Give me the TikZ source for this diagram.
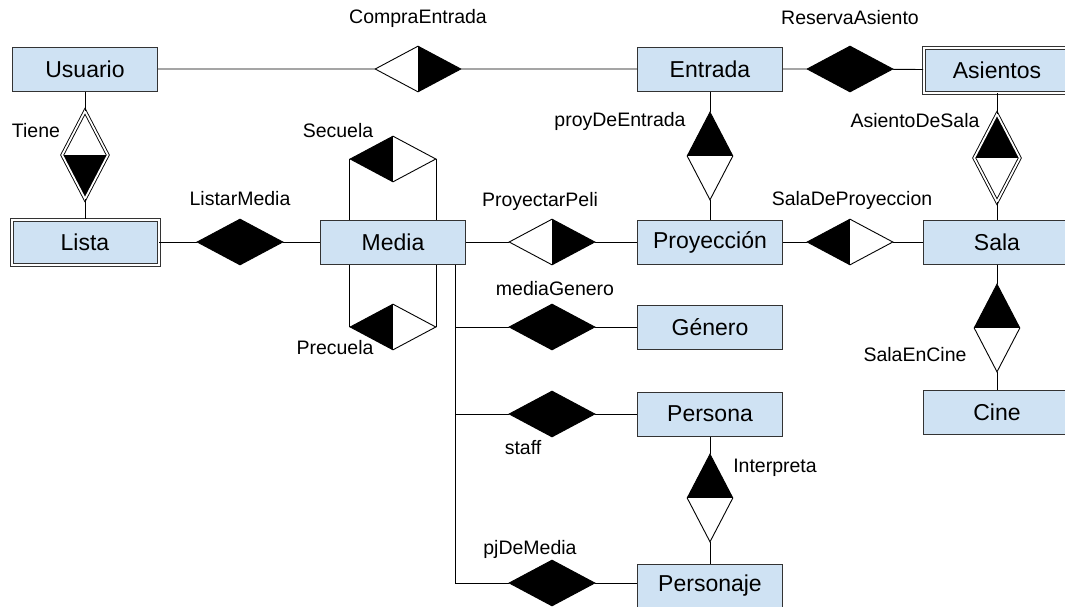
\documentclass[tikz,border=0pt]{standalone}
\usepackage{fontspec}
\setmainfont{Liberation Sans}
\usetikzlibrary{shapes.geometric}
\definecolor{entfill}{HTML}{CFE2F3}
\definecolor{edgec}{HTML}{333333}
\begin{document}
\begin{tikzpicture}[x=1pt,y=-1pt,
  ent/.style={draw=edgec, line width=1pt, fill=entfill, minimum width=145pt, minimum height=44pt, inner sep=0pt, font=\fontsize{23}{27}\selectfont},
  went/.style={ent, minimum width=148pt},
  dent/.style={ent, double=white, double distance=2pt, minimum width=147pt, minimum height=45pt},
  rel/.style={diamond, draw=black, line width=0.9pt, minimum width=86pt, minimum height=46pt, inner sep=0pt, fill=white},
  vrel/.style={rel, minimum width=46pt, minimum height=88pt},
  drel/.style={vrel, double=white, double distance=1.8pt, minimum width=46pt, minimum height=88pt},
  lb/.style={path picture={\fill[black] (path picture bounding box.north west) rectangle (path picture bounding box.south);}},
  rb/.style={path picture={\fill[black] (path picture bounding box.north east) rectangle (path picture bounding box.south);}},
  tb/.style={path picture={\fill[black] (path picture bounding box.north west) rectangle (path picture bounding box.east);}},
  bb/.style={path picture={\fill[black] (path picture bounding box.south west) rectangle (path picture bounding box.east);}},
  full/.style={fill=black},
  lbl/.style={font=\fontsize{19.5}{23}\selectfont, inner sep=0pt},
  conn/.style={draw=black, line width=0.9pt}
]
\useasboundingbox (0,0) rectangle (1065,606);
\clip (0,0) rectangle (1065,606);
\fill[white] (0,0) rectangle (1065,606);

% entities
\node[ent] (usuario) at (85,69) {Usuario};
\node[ent] (entrada) at (710,69) {Entrada};
\node[dent] (asientos) at (997,70) {Asientos};
\node[dent] (lista) at (85,242) {Lista};
\node[ent] (media) at (393,242) {Media};
\node[ent] (proy) at (710,242) {Proyección};
\node[went] (sala) at (997,242) {Sala};
\node[ent] (genero) at (710,327) {Género};
\node[ent] (persona) at (710,414) {Persona};
\node[went] (cine) at (997,412) {Cine};
\node[ent] (personaje) at (710,586) {Personaje};

% relationships
\node[rel,rb] (compra) at (418,69) {};
\node[rel,full] (reserva) at (850,69) {};
\node[drel,bb] (tiene) at (85,155) {};
\node[rel,full] (listar) at (240,242) {};
\node[rel,lb] (secuela) at (393,159) {};
\node[rel,lb] (precuela) at (393,327) {};
\node[rel,rb] (proyectar) at (552,242) {};
\node[vrel,tb] (proyde) at (710,156) {};
\node[rel,lb] (salade) at (850,242) {};
\node[drel,tb] (asde) at (997,158) {};
\node[vrel,tb] (salaen) at (997,328) {};
\node[rel,full] (mgen) at (552,327) {};
\node[rel,full] (staffd) at (552,414) {};
\node[vrel,tb] (interp) at (710,498) {};
\node[rel,full] (pj) at (552,583) {};
\coordinate (trunk) at (455,583);

% connectors
\draw[conn] (usuario) -- (compra) -- (entrada) -- (reserva) -- (asientos);
\draw[conn] (usuario) -- (tiene) -- (lista);
\draw[conn] (lista) -- (listar) -- (media) -- (proyectar) -- (proy) -- (salade) -- (sala);
\draw[conn] (entrada) -- (proyde) -- (proy);
\draw[conn] (asientos) -- (asde) -- (sala);
\draw[conn] (sala) -- (salaen) -- (cine);
\draw[conn] (persona) -- (interp) -- (personaje);
\draw[conn] (media.north -| secuela.west) -- (secuela.west);
\draw[conn] (media.north -| secuela.east) -- (secuela.east);
\draw[conn] (media.south -| precuela.west) -- (precuela.west);
\draw[conn] (media.south -| precuela.east) -- (precuela.east);
\draw[conn] (media.south -| trunk) -- (trunk) -- (pj) -- (personaje.west |- pj);
\draw[conn] (trunk |- mgen) -- (mgen) -- (genero);
\draw[conn] (trunk |- staffd) -- (staffd) -- (persona);

% labels
\node[lbl] (l1) at (418,18) {CompraEntrada};
\node[lbl] (l2) at (850,18) {ReservaAsiento};
\node[lbl] (l3) at (36,131) {Tiene};
\node[lbl] (l4) at (338,131) {Secuela};
\node[lbl] (l5) at (240,199) {ListarMedia};
\node[lbl] (l6) at (620,121) {proyDeEntrada};
\node[lbl] (l7) at (915,121) {AsientoDeSala};
\node[lbl] (l8) at (540,201) {ProyectarPeli};
\node[lbl] (l9) at (852,200) {SalaDeProyeccion};
\node[lbl] (l10) at (555,289) {mediaGenero};
\node[lbl] (l11) at (335,348) {Precuela};
\node[lbl] (l12) at (915,355) {SalaEnCine};
\node[lbl] (l13) at (523,448) {staff};
\node[lbl] (l14) at (775,468) {Interpreta};
\node[lbl] (l15) at (530,549) {pjDeMedia};
\end{tikzpicture}
\end{document}
